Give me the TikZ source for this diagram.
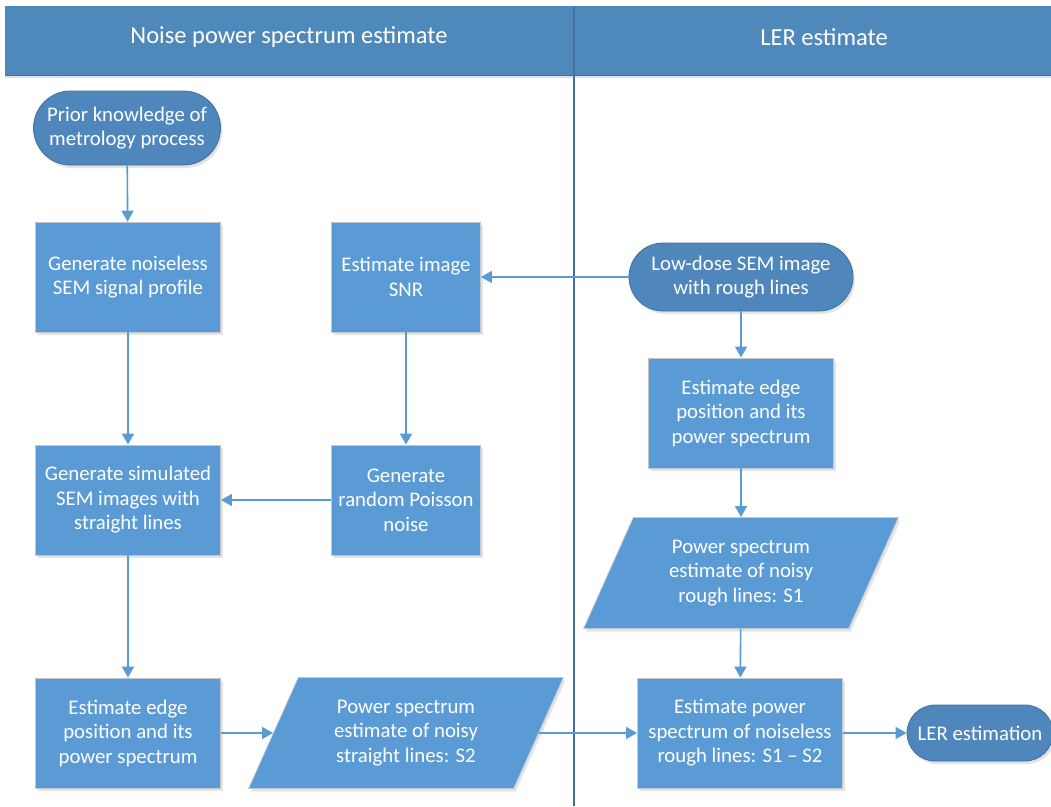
\documentclass[tikz,border=0pt]{standalone}
\usepackage{fontspec}
\setmainfont{Carlito}
\usetikzlibrary{arrows.meta,shapes.geometric,shadows}
\definecolor{boxblue}{HTML}{5B9BD5}
\definecolor{termblue}{HTML}{4F87BC}
\definecolor{headblue}{HTML}{4F89BC}
\definecolor{darkblue}{HTML}{41719C}
\definecolor{boxedge}{HTML}{C0C6CC}
\tikzset{
  x=1pt, y=-1pt,
  shade/.style={drop shadow={opacity=0.22, shadow xshift=2pt, shadow yshift=-3pt}},
  procbox/.style={rectangle, fill=boxblue, draw=boxedge, line width=0.8pt, shade,
    text=white, align=center, font=\fontsize{20.8}{24.5}\selectfont, inner sep=2pt},
  termbox/.style={rectangle, fill=termblue, draw=darkblue, line width=0.8pt, shade,
    text=white, align=center, font=\fontsize{20.8}{24.5}\selectfont, inner sep=2pt},
  databox/.style={trapezium, trapezium left angle=64, trapezium right angle=116,
    trapezium stretches=true, fill=boxblue, draw=boxedge, line width=0.8pt, shade,
    text=white, align=center, font=\fontsize{20.8}{24.5}\selectfont, inner sep=2pt},
  flow/.style={draw=boxblue, line width=1.6pt, -{Triangle[length=11pt,width=12pt]}},
  headtext/.style={text=white, font=\fontsize{24.5}{29}\selectfont}
}
\begin{document}
\begin{tikzpicture}
\useasboundingbox (0,0) rectangle (1051,806);
\fill[white] (0,0) rectangle (1051,806);
% header band
\fill[headblue, drop shadow={opacity=0.25, shadow xshift=0pt, shadow yshift=-3pt}] (5,6) rectangle (1051,75);
\draw[darkblue, line width=1pt] (5,75) -- (1051,75);
\node[headtext] (h1) at (289,37) {Noise power spectrum estimate};
\node[headtext] (h2) at (824,37) {LER estimate};
\draw[darkblue, line width=2pt] (574,6) -- (574,806);

% nodes
\node[termbox, minimum width=187, minimum height=74, rounded corners=37pt] (prior) at (127,128) {Prior knowledge of\\metrology process};
\node[procbox, minimum width=185, minimum height=110] (noiseless) at (128,277) {Generate noiseless\\SEM signal profile};
\node[procbox, minimum width=149, minimum height=110] (snr) at (406,277) {Estimate image\\SNR};
\node[termbox, minimum width=224, minimum height=68, rounded corners=34pt] (lowdose) at (741,277) {Low-dose SEM image\\with rough lines};
\node[procbox, minimum width=185, minimum height=110] (edgeR) at (741,413) {Estimate edge\\position and its\\power spectrum};
\node[procbox, minimum width=185, minimum height=110] (sim) at (128,500) {Generate simulated\\SEM images with\\straight lines};
\node[procbox, minimum width=149, minimum height=110] (poisson) at (406,500) {Generate\\random Poisson\\noise};
\node[databox, minimum width=315, minimum height=111] (s1) at (741,573) {Power spectrum\\estimate of noisy\\rough lines: S1};
\node[procbox, minimum width=185, minimum height=110] (edgeL) at (128,733) {Estimate edge\\position and its\\power spectrum};
\node[databox, minimum width=315, minimum height=111] (s2) at (406,733) {Power spectrum\\estimate of noisy\\straight lines: S2};
\node[procbox, minimum width=205, minimum height=110] (noiseless2) at (740,733) {Estimate power\\spectrum of noiseless\\rough lines: S1 – S2};
\node[termbox, minimum width=146, minimum height=56, rounded corners=28pt] (ler) at (980,733) {LER estimation};

% connectors
\draw[flow] (prior) -- (noiseless);
\draw[flow] (noiseless) -- (sim);
\draw[flow] (snr) -- (poisson);
\draw[flow] (poisson) -- (sim);
\draw[flow] (lowdose) -- (snr);
\draw[flow] (lowdose) -- (edgeR);
\draw[flow] (edgeR) -- (s1);
\draw[flow] (s1) -- (noiseless2);
\draw[flow] (sim) -- (edgeL);
\draw[flow] (edgeL) -- (s2);
\draw[flow] (s2) -- (noiseless2);
\draw[flow] (noiseless2) -- (ler);
\end{tikzpicture}
\end{document}
